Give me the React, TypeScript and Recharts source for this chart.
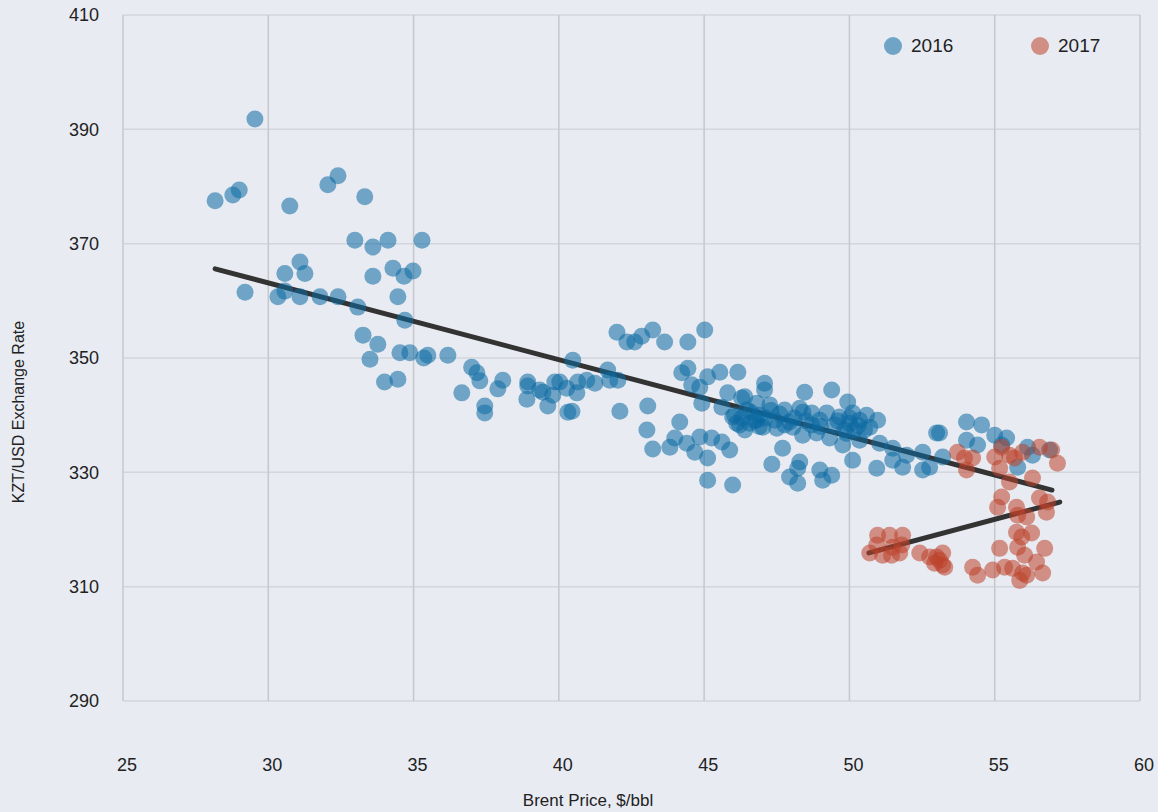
import { ScatterChart, Scatter, XAxis, YAxis, CartesianGrid, ReferenceLine, Label } from "recharts";

const BG = "#e8ebf2";
const FONT = "'Liberation Sans', Arial, sans-serif";

const X_TICKS = [25, 30, 35, 40, 45, 50, 55, 60];
const Y_TICKS = [290, 310, 330, 350, 370, 390, 410];

const SERIES_NAMES = ["2016", "2017"];
const SERIES_COLORS = ["#0b6aa2", "#bc422a"];

// [brent, kzt] pairs
const points2016 = [
    [28.17, 377.5], [28.78, 378.5], [29.0, 379.4], [29.54, 391.8], [30.74, 376.6],
    [29.2, 361.5], [30.33, 360.7], [30.57, 361.7], [30.57, 364.8], [31.09, 366.8],
    [31.26, 364.8], [31.09, 360.7], [31.78, 360.7], [32.05, 380.3], [32.4, 381.9],
    [32.4, 360.7], [32.98, 370.6], [33.32, 378.2], [33.6, 369.4], [33.6, 364.3],
    [33.08, 358.9], [33.26, 354.0], [33.5, 349.8], [33.77, 352.4], [34.12, 370.6],
    [34.29, 365.7], [34.0, 345.8], [34.46, 360.7], [34.46, 346.3], [34.67, 364.3],
    [34.98, 365.2], [34.7, 356.6], [34.53, 350.9], [34.87, 350.9], [35.29, 370.6],
    [35.35, 350.0], [35.49, 350.5], [36.18, 350.5],
    [36.66, 343.9], [37.0, 348.4], [37.18, 347.4], [37.28, 346.0], [37.9, 344.6],
    [38.07, 346.1], [37.45, 341.6], [37.45, 340.4], [38.93, 345.8], [38.93, 345.1],
    [38.9, 342.8], [39.34, 344.4], [39.45, 344.0], [39.62, 341.6], [39.79, 343.5],
    [39.86, 345.8], [40.03, 345.8], [40.31, 340.5],
    [42.0, 354.5], [42.34, 352.8], [42.61, 352.8], [42.85, 353.8], [43.23, 354.9],
    [43.64, 352.8], [44.44, 352.8], [45.02, 354.9], [40.48, 349.6], [40.27, 344.7],
    [40.62, 343.9], [40.65, 345.8], [40.96, 346.1], [41.24, 345.6], [41.68, 347.9],
    [41.75, 346.1], [42.03, 346.1], [40.45, 340.7], [42.1, 340.7], [43.06, 341.6],
    [43.03, 337.4], [43.23, 334.1], [44.16, 338.8], [43.82, 334.4], [43.99, 336.0],
    [44.4, 335.1], [44.68, 333.5], [44.85, 336.2], [45.12, 332.5], [45.26, 336.0],
    [45.61, 335.3], [45.88, 333.9], [45.12, 328.6], [45.98, 327.8], [44.23, 347.4],
    [44.44, 348.2], [44.57, 345.3], [44.85, 344.9], [45.12, 346.7], [45.54, 347.5],
    [46.16, 347.5], [44.92, 342.1], [45.81, 343.9], [45.61, 341.4], [46.29, 343.0],
    [45.98, 339.7], [46.12, 338.6], [46.81, 339.1],
    [47.08, 345.6], [47.08, 344.4], [48.46, 344.0], [49.39, 344.4], [49.94, 342.3],
    [46.4, 343.2], [46.47, 340.9], [46.81, 342.1], [47.26, 341.8], [47.77, 340.9],
    [48.29, 341.2], [48.7, 340.4], [49.22, 340.4], [49.66, 339.7], [50.11, 340.4],
    [50.59, 340.0], [50.97, 339.1], [46.57, 338.6], [47.02, 337.9], [47.5, 337.7],
    [48.05, 337.9], [48.39, 336.5], [48.87, 336.9], [49.32, 336.0], [49.77, 334.8],
    [50.35, 335.6], [51.04, 335.1], [51.49, 334.2], [51.97, 333.0], [52.52, 333.5],
    [53.0, 336.9], [47.7, 334.2], [47.33, 331.4], [48.29, 331.8], [47.94, 329.2],
    [48.22, 330.7], [48.22, 328.1], [48.98, 330.4], [49.08, 328.6], [49.39, 329.5],
    [50.11, 332.1], [50.94, 330.7], [51.49, 332.1], [51.83, 330.9], [52.52, 330.4],
    [47.94, 338.8], [48.7, 338.3], [50.01, 338.6], [50.7, 337.9],
    [46.05, 340.0], [46.22, 338.3], [46.4, 337.4], [46.74, 339.1], [46.91, 340.0],
    [47.43, 339.1], [47.77, 338.3], [48.98, 339.1], [49.49, 338.3], [49.84, 337.4],
    [50.18, 337.4], [50.35, 339.1], [50.52, 337.4],
    [46.3, 339.5], [46.6, 340.5], [47.1, 339.5], [47.6, 340.2], [48.1, 339.5],
    [48.5, 339.0], [49.0, 338.0], [49.6, 339.0], [50.0, 339.5], [50.3, 338.2],
    [46.9, 338.0], [47.3, 340.8], [48.4, 340.5], [49.9, 336.8],
    [54.03, 338.8], [54.55, 338.3], [53.1, 336.9], [54.03, 335.6], [54.41, 334.8],
    [55.0, 336.5], [55.41, 336.0], [53.21, 332.7], [52.76, 330.9], [56.13, 334.4],
    [56.3, 333.0], [55.79, 330.9], [55.24, 334.8], [56.89, 333.9],
];

const points2017 = [
    [53.72, 333.5], [53.96, 332.5], [54.24, 332.5], [54.03, 330.4], [55.0, 332.7],
    [55.24, 334.4], [55.51, 333.0], [55.68, 332.5], [55.96, 333.5], [56.54, 334.4],
    [56.96, 333.9], [57.16, 331.6], [55.17, 330.7], [55.51, 328.3], [55.24, 325.7],
    [55.1, 323.9], [56.3, 329.0], [55.75, 323.9], [55.79, 322.5], [56.1, 322.2],
    [56.54, 325.5], [56.82, 324.8], [56.78, 323.0], [55.75, 319.5], [55.93, 318.7],
    [56.27, 319.4], [55.79, 316.9], [55.17, 316.7], [56.72, 316.7], [56.03, 315.5],
    [56.44, 314.3], [54.24, 313.4], [54.41, 312.0], [54.93, 312.9], [55.34, 313.4],
    [55.62, 313.2], [55.96, 312.4], [56.1, 312.0], [56.65, 312.4], [55.86, 311.1],
    [53.21, 315.9], [53.1, 314.6], [53.28, 313.4], [52.76, 315.2],
    [50.7, 315.9], [50.97, 319.0], [51.38, 319.0], [51.83, 319.0], [50.94, 317.3],
    [51.49, 316.9], [51.8, 317.3], [51.14, 315.5], [51.45, 315.5], [51.73, 315.9],
    [52.42, 315.9], [53.0, 315.2], [52.93, 314.1], [53.21, 313.8],
];

// fitted trend lines, start and end
const trend2016 = [[28.17, 365.6], [56.97, 326.9]];
const trend2017 = [[50.67, 315.9], [57.24, 324.8]];

const toRows = (pts: number[][]) => pts.map(([x, y]) => ({ x, y }));

const dot = (color: string) => (props: any) => (
    <circle cx={props.cx} cy={props.cy} r={8.5} fill={color} fillOpacity={0.55} />
);

function App() {
    const series = [points2016, points2017];
    const trends = [trend2016, trend2017];
    return (
        <div style={{ position: "absolute", left: 0, top: 0, width: 1158, height: 812, background: BG, fontFamily: FONT }}>
            <ScatterChart width={1158} height={812} margin={{ top: 15, right: 18, bottom: 0, left: 0 }}>
                <CartesianGrid horizontal={true} vertical={false} stroke="#d3d6dc" strokeWidth={1.5} />
                <CartesianGrid horizontal={false} vertical={true} stroke="#c6c8cc" strokeWidth={1.5} />
                <XAxis
                    type="number" dataKey="x" domain={[25, 60]} ticks={X_TICKS} height={111}
                    axisLine={false} tickLine={false} tickSize={0} tickMargin={57}
                    tick={{ fill: "#222", fontSize: 18, fontFamily: FONT, dx: 4 }}
                >
                    <Label
                        content={() => (
                            <text x={588} y={806} textAnchor="middle" fontSize={17} fill="#222" fontFamily={FONT}>
                                Brent Price, $/bbl
                            </text>
                        )}
                    />
                </XAxis>
                <YAxis
                    type="number" dataKey="y" domain={[290, 410]} ticks={Y_TICKS} width={123}
                    axisLine={false} tickLine={false} tickSize={0} tickMargin={24}
                    tick={{ fill: "#222", fontSize: 18, fontFamily: FONT }}
                >
                    <Label
                        content={() => (
                            <text x={24} y={412} transform="rotate(-90 24 412)" textAnchor="middle" fontSize={16} fill="#222" fontFamily={FONT}>
                                KZT/USD Exchange Rate
                            </text>
                        )}
                    />
                </YAxis>
                {series.map((pts, i) => (
                    <Scatter
                        key={SERIES_NAMES[i]}
                        name={SERIES_NAMES[i]}
                        data={toRows(pts)}
                        shape={dot(SERIES_COLORS[i])}
                        isAnimationActive={false}
                    />
                ))}
                {trends.map((t, i) => (
                    <ReferenceLine
                        key={"trend" + i}
                        segment={[{ x: t[0][0], y: t[0][1] }, { x: t[1][0], y: t[1][1] }]}
                        stroke="#333333"
                        strokeWidth={5}
                        strokeLinecap="round"
                    />
                ))}
            </ScatterChart>
            <div style={{ position: "absolute", left: 884, top: 35, display: "flex", fontSize: 19, color: "#222" }}>
                {SERIES_NAMES.map((name, i) => (
                    <div key={name} style={{ display: "flex", alignItems: "center", width: 147 }}>
                        <span style={{ width: 18, height: 18, borderRadius: 9, background: SERIES_COLORS[i], opacity: 0.55, marginRight: 9 }} />
                        <span>{name}</span>
                    </div>
                ))}
            </div>
        </div>
    );
}

export default App;
